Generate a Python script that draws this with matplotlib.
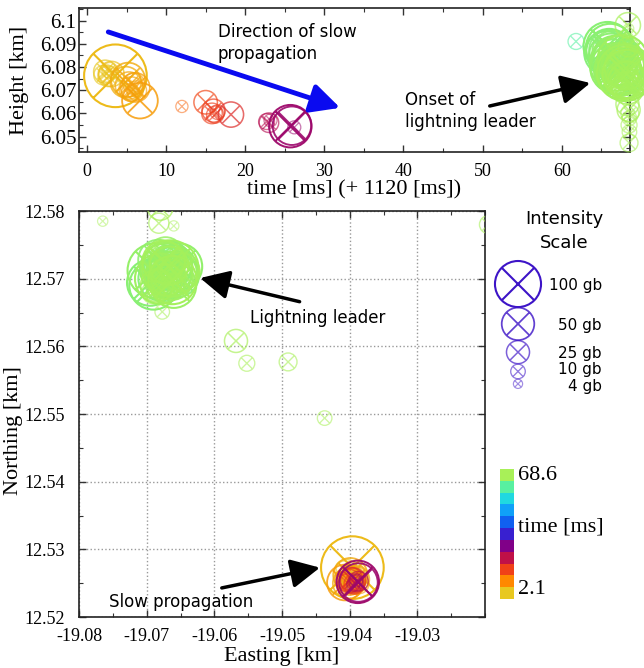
import numpy as np
import matplotlib
matplotlib.use('Agg')
import matplotlib.pyplot as plt
from matplotlib.path import Path
from matplotlib.colors import LinearSegmentedColormap, ListedColormap, Normalize
from matplotlib.ticker import MultipleLocator, FuncFormatter

# ---- sources: time [ms], height [km], easting [km], northing [km], intensity [gb]
time_ms = [2.1, 2.3, 2.5, 2.7, 2.9, 3.1, 3.6, 4.9, 5.2, 5.3, 5.5, 5.6, 5.9, 6.1, 6.3, 6.7,
           12.0, 15.0, 15.8, 16.0, 16.2, 16.5, 18.2, 22.7, 23.0, 23.2, 25.7, 25.9, 26.2,
           61.8, 65.6, 65.9, 66.1, 66.3, 66.5, 66.6, 66.8, 66.9, 67.0, 67.1, 67.2, 67.3,
           67.4, 67.5, 67.6, 67.7, 67.8, 67.9, 68.0, 68.1, 68.2, 68.3, 68.3, 68.35, 68.4,
           68.4, 68.45, 68.45, 68.5, 68.5, 68.55, 68.55, 68.6,
           65.8, 66.2, 66.4, 66.7, 67.0, 67.2, 67.5, 67.7, 68.0, 68.1, 68.2, 68.3, 66.0]
height = [6.0765, 6.0780, 6.0772, 6.0760, 6.0785, 6.0770, 6.0762, 6.0735, 6.0745, 6.0720,
          6.0690, 6.0705, 6.0728, 6.0712, 6.0698, 6.0655, 6.0630, 6.0648, 6.0600, 6.0612,
          6.0595, 6.0605, 6.0595, 6.0565, 6.0560, 6.0570, 6.0545, 6.0547, 6.0540,
          6.0910, 6.0860, 6.0875, 6.0882, 6.0845, 6.0830, 6.0810, 6.0795, 6.0820, 6.0780,
          6.0800, 6.0765, 6.0840, 6.0770, 6.0790, 6.0750, 6.0805, 6.0785, 6.0760, 6.0775,
          6.0730, 6.0720, 6.0740, 6.0640, 6.0980, 6.0887, 6.0925, 6.0965, 6.0615, 6.0550,
          6.0473, 6.0520, 6.0580, 6.0600,
          6.0890, 6.0850, 6.0870, 6.0835, 6.0815, 6.0800, 6.0760, 6.0830, 6.0745, 6.0795,
          6.0770, 6.0710, 6.0865]
easting = [-19.0401, -19.0405, -19.0398, -19.0393, -19.0408, -19.0396, -19.0396, -19.0402,
           -19.0399, -19.0391, -19.0404, -19.0395, -19.0389, -19.0400, -19.0386, -19.0407,
           -19.0397, -19.0401, -19.0393, -19.0398, -19.0404, -19.0390, -19.0395, -19.0392,
           -19.0387, -19.0395, -19.0388, -19.0387, -19.0390,
           -19.0664, -19.0680, -19.0675, -19.0669, -19.0672, -19.0664, -19.0670, -19.0662,
           -19.0676, -19.0668, -19.0660, -19.0673, -19.0666, -19.0658, -19.0671, -19.0677,
           -19.0663, -19.0669, -19.0674, -19.0665, -19.0670, -19.0661, -19.0667, -19.0690,
           -19.0680, -19.0682, -19.0765, -19.0660, -19.0568, -19.0552, -19.0491, -19.0677,
           -19.0437, -19.0195,
           -19.0690, -19.0655, -19.0683, -19.0652, -19.0688, -19.0672, -19.0660, -19.0680,
           -19.0650, -19.0675, -19.0662, -19.0685, -19.0695]
northing = [12.5262, 12.5268, 12.5265, 12.5259, 12.5271, 12.5263, 12.5273, 12.5250, 12.5262,
            12.5256, 12.5247, 12.5252, 12.5258, 12.5254, 12.5249, 12.5251, 12.5246, 12.5253,
            12.5249, 12.5256, 12.5251, 12.5248, 12.5254, 12.5250, 12.5253, 12.5247, 12.5252,
            12.5251, 12.5254,
            12.5733, 12.5700, 12.5712, 12.5720, 12.5709, 12.5716, 12.5725, 12.5712, 12.5718,
            12.5705, 12.5722, 12.5695, 12.5730, 12.5708, 12.5714, 12.5703, 12.5700, 12.5727,
            12.5690, 12.5715, 12.5698, 12.5710, 12.5719, 12.5680, 12.5805, 12.5782, 12.5785,
            12.5778, 12.5608, 12.5575, 12.5577, 12.5651, 12.5494, 12.5780,
            12.5690, 12.5705, 12.5728, 12.5718, 12.5712, 12.5735, 12.5690, 12.5700, 12.5710,
            12.5725, 12.5698, 12.5690, 12.5694]
intensity = [18, 25, 14, 20, 12, 30, 185, 45, 55, 35, 15, 28, 22, 40, 18, 60,
             7, 26, 20, 25, 14, 10, 30, 12, 18, 8, 85, 70, 8,
             12, 90, 70, 110, 60, 80, 50, 120, 45, 100, 65, 75, 40, 90, 130, 55, 85, 60,
             35, 150, 45, 30, 70, 25, 30, 19, 5, 5, 25, 12, 15, 10, 10, 15,
             110, 90, 75, 100, 140, 60, 95, 120, 70, 85, 110, 50, 100]

legend_gb = [100, 50, 25, 10, 4]

cbar_colors = ['#e8c820', '#ff8800', '#f04018', '#c01048', '#800088', '#3820d0',
               '#1060f0', '#10a0f8', '#20d8e0', '#58f0a0', '#a8f058']
t_min, t_max = 2.1, 68.6

SIZE_K = 11.0  # scatter area (pt^2) per gb


def alpha_of(i):
    return np.clip(0.35 + 0.65 * np.sqrt(np.asarray(i, float) / 100.0), 0, 1)


def lw_of(i):
    return 0.7 + 0.8 * np.clip(np.sqrt(np.asarray(i, float) / 100.0), 0, 1)


# circle with a cross inside
c = np.sqrt(0.5)
circ = Path.unit_circle()
marker = Path(list(circ.vertices) + [(-c, -c), (c, c), (-c, c), (c, -c)],
              list(circ.codes) + [Path.MOVETO, Path.LINETO, Path.MOVETO, Path.LINETO])

cmap = LinearSegmentedColormap.from_list('tcmap', cbar_colors)
norm = Normalize(t_min, t_max)

order = np.argsort(time_ms, kind='stable')
t = np.array(time_ms)[order]
h = np.array(height)[order]
east = np.array(easting)[order]
north = np.array(northing)[order]
inten = np.array(intensity, float)[order]
cols = cmap(norm(t))
cols[:, 3] = alpha_of(inten)

plt.rcParams['axes.unicode_minus'] = False
serif = 'Liberation Serif'
sans = 'DejaVu Sans'

fig = plt.figure(figsize=(6.44, 6.68), dpi=100)
fmt = FuncFormatter(lambda v, p: '%g' % round(v, 4))


def style_axes(ax, xpad, ypad, ysize=13):
    for s in ax.spines.values():
        s.set_linewidth(1.2)
        s.set_color('#222222')
    ax.tick_params(which='both', direction='in', top=True, right=True, colors='#333333',
                   labelcolor='black')
    ax.tick_params(which='major', length=5, width=1, labelsize=13)
    ax.tick_params(which='minor', length=3, width=0.8)
    ax.tick_params(axis='x', which='major', pad=xpad)
    ax.tick_params(axis='y', which='major', pad=ypad, labelsize=ysize)
    for lab in ax.get_xticklabels() + ax.get_yticklabels():
        lab.set_family(serif)
    ax.xaxis.set_major_formatter(fmt)
    ax.yaxis.set_major_formatter(fmt)


# ---------------- top: time vs height
ax1 = fig.add_axes([0.1227, 0.7729, 0.8553, 0.2147])
ax1.scatter(t, h, s=SIZE_K * inten, marker=marker, facecolors='none',
            edgecolors=cols, linewidths=lw_of(inten), clip_on=False, zorder=3)
ax1.set_xlim(-1, 68.6)
ax1.set_ylim(6.0435, 6.1053)
ax1.xaxis.set_major_locator(MultipleLocator(10))
ax1.xaxis.set_minor_locator(MultipleLocator(5))
ax1.yaxis.set_major_locator(MultipleLocator(0.01))
ax1.yaxis.set_minor_locator(MultipleLocator(0.005))
style_axes(ax1, xpad=8, ypad=2, ysize=15)
ax1.set_xlabel('time [ms] (+ 1120 [ms])', family=serif, fontsize=16, labelpad=0)
ax1.set_ylabel('Height [km]', family=serif, fontsize=16)
ax1.yaxis.set_label_coords(-0.09, 0.5)

ax1.annotate('', xy=(32.0, 6.0624), xytext=(2.7, 6.0951),
             arrowprops=dict(arrowstyle='-|>,head_length=0.8,head_width=0.4',
                             color='#0a0af0', lw=3.5, mutation_scale=22,
                             shrinkA=0, shrinkB=0))
ax1.text(16.5, 6.0904, 'Direction of slow\npropagation', family=sans, fontsize=12,
         ha='left', va='center', linespacing=1.25)
ax1.annotate('', xy=(63.6, 6.0731), xytext=(50.9, 6.0632),
             arrowprops=dict(arrowstyle='-|>,head_length=0.8,head_width=0.4',
                             color='black', lw=2.5, mutation_scale=22,
                             shrinkA=0, shrinkB=0))
ax1.text(40.2, 6.0611, 'Onset of\nlightning leader', family=sans, fontsize=12,
         ha='left', va='center', linespacing=1.25)

# ---------------- bottom: plan view
ax2 = fig.add_axes([0.1227, 0.0763, 0.6304, 0.6078])
ax2.scatter(east, north, s=SIZE_K * inten, marker=marker, facecolors='none',
            edgecolors=cols, linewidths=lw_of(inten), zorder=3)
ax2.set_xlim(-19.08, -19.02)
ax2.set_ylim(12.52, 12.58)
ax2.set_xticks([-19.08, -19.07, -19.06, -19.05, -19.04, -19.03])
ax2.xaxis.set_minor_locator(MultipleLocator(0.005))
ax2.yaxis.set_major_locator(MultipleLocator(0.01))
ax2.yaxis.set_minor_locator(MultipleLocator(0.005))
ax2.grid(True, which='major', ls=':', color='#999999', lw=1)
style_axes(ax2, xpad=8, ypad=10)
ax2.set_xlabel('Easting [km]', family=serif, fontsize=16, labelpad=1)
ax2.set_ylabel('Northing [km]', family=serif, fontsize=16)
ax2.yaxis.set_label_coords(-0.137, 0.46)

ax2.annotate('', xy=(-19.0621, 12.5701), xytext=(-19.0474, 12.5666),
             arrowprops=dict(arrowstyle='-|>,head_length=0.8,head_width=0.4',
                             color='black', lw=2.5, mutation_scale=22,
                             shrinkA=0, shrinkB=0))
ax2.text(-19.0547, 12.5642, 'Lightning leader', family=sans, fontsize=12,
         ha='left', va='center')
ax2.annotate('', xy=(-19.0444, 12.5273), xytext=(-19.0589, 12.5243),
             arrowprops=dict(arrowstyle='-|>,head_length=0.8,head_width=0.4',
                             color='black', lw=2.5, mutation_scale=22,
                             shrinkA=0, shrinkB=0))
ax2.text(-19.0756, 12.5222, 'Slow propagation', family=sans, fontsize=12,
         ha='left', va='center')

# ---------------- colour bar
cax = fig.add_axes([0.7764, 0.1033, 0.0217, 0.1946])
sm = plt.cm.ScalarMappable(norm=norm, cmap=ListedColormap(cbar_colors))
cb = fig.colorbar(sm, cax=cax)
cb.outline.set_visible(False)
cb.set_ticks([])
fig.text(0.804, 1 - 475 / 668, '%.1f' % t_max, family=serif, fontsize=16, va='center')
fig.text(0.804, 1 - 527 / 668, 'time [ms]', family=serif, fontsize=16, va='center')
fig.text(0.804, 1 - 590 / 668, '%.1f' % t_min, family=serif, fontsize=16, va='center')

# ---------------- intensity scale
lax = fig.add_axes([0, 0, 1, 1], zorder=-1)
lax.set_xlim(0, 644)
lax.set_ylim(668, 0)
lax.axis('off')
lax.text(564, 231, 'Intensity\nScale', family=sans, fontsize=13, ha='center',
         va='center', linespacing=1.4)
leg = np.array(legend_gb, float)
r_px = 0.5 * np.sqrt(SIZE_K * leg) * 100 / 72
y = 261.0
cy = []
for r in r_px:
    cy.append(y + r)
    y += 2 * r + 0.5
leg_cols = np.tile(np.array([0.24, 0.08, 0.78, 1.0]), (len(leg), 1))
leg_cols[:, 3] = alpha_of(leg)
lax.scatter([518] * len(leg), cy, s=SIZE_K * leg, marker=marker, facecolors='none',
            edgecolors=leg_cols, linewidths=lw_of(leg))
label_shift = [1, 2, 1, -2, 3]
for g, yy, dy in zip(legend_gb, cy, label_shift):
    lax.text(602, yy + dy, '%d gb' % g, family=sans, fontsize=11, ha='right', va='center')

fig.savefig('out.png', dpi=100)
